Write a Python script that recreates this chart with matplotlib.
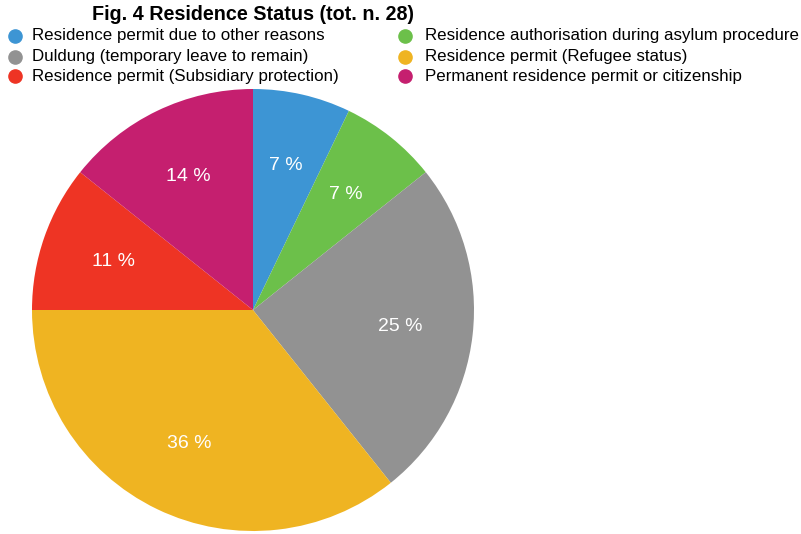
import matplotlib.pyplot as plt
from matplotlib.lines import Line2D

plt.rcParams['font.family'] = ['Liberation Sans', 'DejaVu Sans']

# Data: counts out of 28 respondents
labels = ["Residence permit due to other reasons",
          "Residence authorisation during asylum procedure",
          "Duldung (temporary leave to remain)",
          "Residence permit (Refugee status)",
          "Residence permit (Subsidiary protection)",
          "Permanent residence permit or citizenship"]
counts = [2, 2, 7, 10, 3, 4]
colors = ["#3D95D4", "#6CC04A", "#929292", "#EFB422", "#EE3424", "#C51F6F"]

fig = plt.figure(figsize=(8.01, 5.34), dpi=100)

# pie axes placed so circle sits at (253, 310) px, radius ~221 px
ax = fig.add_axes([32 / 801, 3 / 534, 442 / 801, 442 / 534])
wedges, texts, autotexts = ax.pie(counts, colors=colors, startangle=90, counterclock=False,
                                  autopct='%.0f %%', pctdistance=0.67,
                                  wedgeprops=dict(linewidth=0))
for t in autotexts:
    t.set_color('white')
    t.set_fontsize(14)
ax.set_xlim(-1, 1)
ax.set_ylim(-1, 1)
ax.set_aspect('equal')

fig.text(253 / 801, 1 - 15 / 534, "Fig. 4 Residence Status (tot. n. 28)",
         ha='center', va='center', fontsize=14.2, fontweight='bold')

# legend in two columns, row-major like the original
col_x = [15, 405]
txt_x = [32, 425]
row_y = [36, 57, 76]
for i, (lab, c) in enumerate(zip(labels, colors)):
    cy = row_y[i // 2]
    fig.add_artist(Line2D([col_x[i % 2] / 801], [1 - cy / 534], marker='o', markersize=9.5,
                          color=c, linestyle='none', transform=fig.transFigure))
    fig.text(txt_x[i % 2] / 801, 1 - cy / 534, lab, ha='left', va='center', fontsize=12.2)

fig.savefig('out.png', dpi=100)
